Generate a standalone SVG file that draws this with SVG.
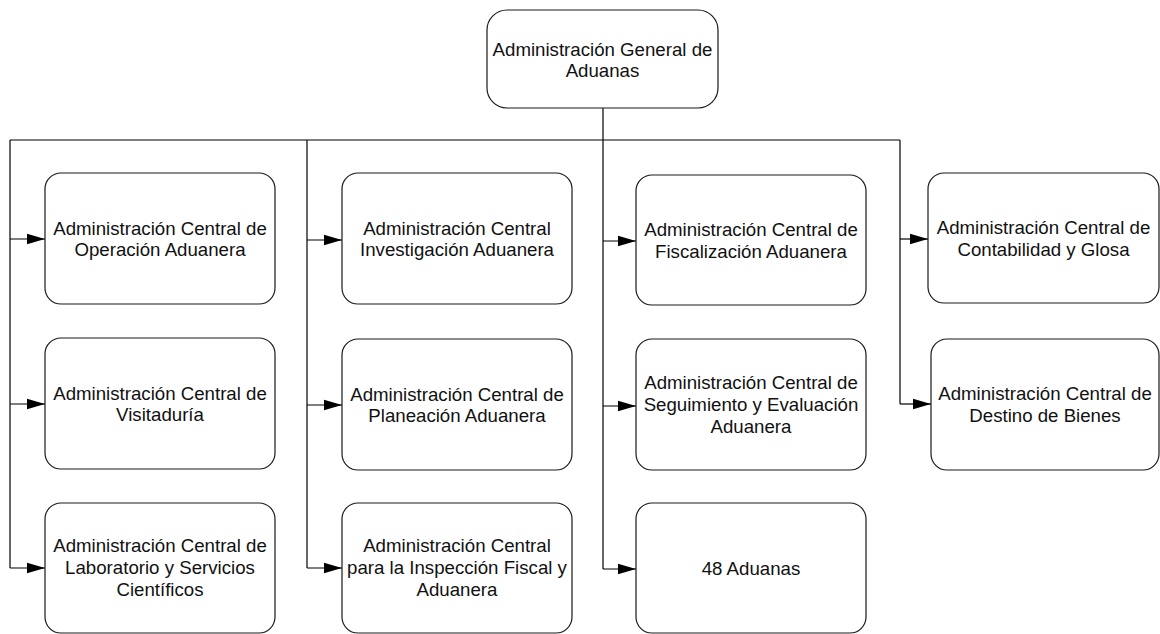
<svg xmlns="http://www.w3.org/2000/svg" width="1160" height="634" viewBox="0 0 1160 634">
<style>
.box{fill:#fff;stroke:#1a1a1a;stroke-width:1.2}
.t{font-family:"Liberation Sans",Arial,sans-serif;font-size:18.67px;fill:#111;text-anchor:middle}
.c{fill:none;stroke:#000;stroke-width:1.2}
</style>
<defs>
<marker id="ah" markerUnits="userSpaceOnUse" markerWidth="18" markerHeight="12" refX="18" refY="6" orient="auto">
<path d="M0,0.8 L18,6 L0,11.2 Z" fill="#000"/>
</marker>
</defs>
<rect width="1160" height="634" fill="#fff"/>
<g id="connectors">
<path class="c" d="M603,108 V569"/>
<path class="c" d="M10,140 H900"/>
<path class="c" d="M10,140 V568"/>
<path class="c" d="M307,140 V568"/>
<path class="c" d="M900,140 V404"/>
<path class="c" marker-end="url(#ah)" d="M10,239 H45"/>
<path class="c" marker-end="url(#ah)" d="M10,404 H45"/>
<path class="c" marker-end="url(#ah)" d="M10,568 H45"/>
<path class="c" marker-end="url(#ah)" d="M307,240 H342"/>
<path class="c" marker-end="url(#ah)" d="M307,405 H342"/>
<path class="c" marker-end="url(#ah)" d="M307,568 H342"/>
<path class="c" marker-end="url(#ah)" d="M603,241 H636"/>
<path class="c" marker-end="url(#ah)" d="M603,406 H636"/>
<path class="c" marker-end="url(#ah)" d="M603,569 H636"/>
<path class="c" marker-end="url(#ah)" d="M900,239 H928"/>
<path class="c" marker-end="url(#ah)" d="M900,404 H931"/>
</g>
<g id="n0">
<rect class="box" x="487" y="10" width="231" height="98" rx="20"/>
<text class="t" x="602.5" y="56">Administración General de</text>
<text class="t" x="602.5" y="77">Aduanas</text>
</g>
<g id="n1">
<rect class="box" x="45" y="173" width="230" height="131" rx="16"/>
<text class="t" x="160" y="234.5">Administración Central de</text>
<text class="t" x="160" y="256">Operación Aduanera</text>
</g>
<g id="n2">
<rect class="box" x="45" y="338" width="230" height="131" rx="16"/>
<text class="t" x="160" y="399.5">Administración Central de</text>
<text class="t" x="160" y="421">Visitaduría</text>
</g>
<g id="n3">
<rect class="box" x="45" y="503" width="230" height="130" rx="16"/>
<text class="t" x="160" y="552">Administración Central de</text>
<text class="t" x="160" y="574">Laboratorio y Servicios</text>
<text class="t" x="160" y="596">Científicos</text>
</g>
<g id="n4">
<rect class="box" x="342" y="173" width="230" height="131" rx="16"/>
<text class="t" x="457" y="234.5">Administración Central</text>
<text class="t" x="457" y="256">Investigación Aduanera</text>
</g>
<g id="n5">
<rect class="box" x="342" y="339" width="230" height="131" rx="16"/>
<text class="t" x="457" y="400.5">Administración Central de</text>
<text class="t" x="457" y="422">Planeación Aduanera</text>
</g>
<g id="n6">
<rect class="box" x="342" y="503" width="230" height="130" rx="16"/>
<text class="t" x="457" y="552">Administración Central</text>
<text class="t" x="457" y="574">para la Inspección Fiscal y</text>
<text class="t" x="457" y="596">Aduanera</text>
</g>
<g id="n7">
<rect class="box" x="636" y="175" width="230" height="130" rx="16"/>
<text class="t" x="751" y="236">Administración Central de</text>
<text class="t" x="751" y="257.5">Fiscalización Aduanera</text>
</g>
<g id="n8">
<rect class="box" x="636" y="339" width="230" height="131" rx="16"/>
<text class="t" x="751" y="389">Administración Central de</text>
<text class="t" x="751" y="411">Seguimiento y Evaluación</text>
<text class="t" x="751" y="433">Aduanera</text>
</g>
<g id="n9">
<rect class="box" x="636" y="503" width="230" height="130" rx="16"/>
<text class="t" x="751" y="575">48 Aduanas</text>
</g>
<g id="n10">
<rect class="box" x="928" y="173" width="231" height="130" rx="16"/>
<text class="t" x="1043.5" y="234">Administración Central de</text>
<text class="t" x="1043.5" y="255.5">Contabilidad y Glosa</text>
</g>
<g id="n11">
<rect class="box" x="931" y="339" width="228" height="131" rx="16"/>
<text class="t" x="1045" y="400">Administración Central de</text>
<text class="t" x="1045" y="421.5">Destino de Bienes</text>
</g>
</svg>
